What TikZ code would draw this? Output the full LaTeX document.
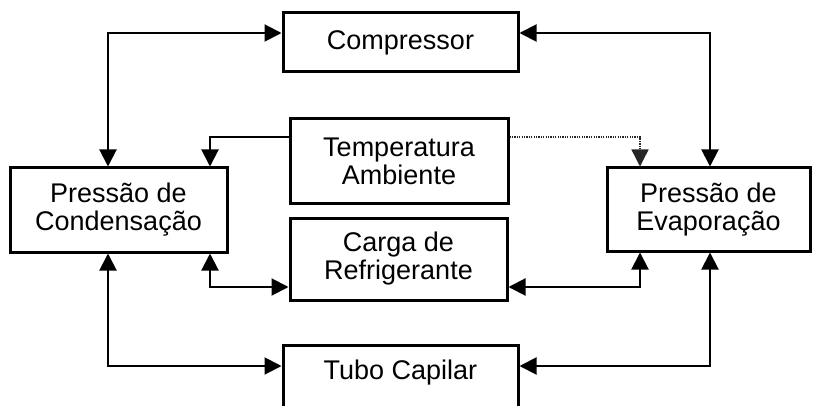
\documentclass[tikz,border=0pt]{standalone}
\usepackage{fontspec}
\setmainfont{Liberation Sans}
\usetikzlibrary{arrows.meta,calc}
\begin{document}
\begin{tikzpicture}[x=1pt,y=-1pt,
  box/.style={draw, line width=3pt, rectangle, align=center, inner sep=0pt,
    font=\fontsize{27}{28}\selectfont},
  tip/.tip={Triangle[length=17pt,width=17pt]},
  conn/.style={line width=2pt, tip-tip},
  oneway/.style={line width=2pt, -tip},
  dots/.style={line width=1.4pt, black!85, dash pattern=on 1.3pt off 1.1pt, -tip}
]
\useasboundingbox (0,0) rectangle (813,406);
\clip (0,0) rectangle (813,406);

\node[box, minimum width=235pt, minimum height=59pt] (comp) at (400.5,42.5) {Compressor};
\node[box, minimum width=218pt, minimum height=84pt] (temp) at (399,161) {Temperatura\\Ambiente};
\node[box, minimum width=217pt, minimum height=82pt] (carga) at (398.5,259) {Carga de\\Refrigerante};
\node[box, minimum width=217pt, minimum height=84pt] (cond) at (118.5,210) {Pressão de\\Condensação};
\node[box, minimum width=203pt, minimum height=83pt] (evap) at (708.5,209.5) {Pressão de\\Evaporação};
\node[box, align=none, minimum width=235pt, minimum height=85pt, text height=20pt, text depth=37pt] (tubo) at (400.5,387.5) {Tubo Capilar};

\draw[conn] ([xshift=-10.5pt]cond.north) |- ([yshift=9.5pt]comp.west);
\draw[conn] ([yshift=9.5pt]comp.east) -| ([xshift=1.5pt]evap.north);
\draw[oneway] ([yshift=24pt]temp.west) -| ([xshift=91.5pt]cond.north);
\draw[dots] ([yshift=24pt]temp.east) -| ([xshift=-68.5pt]evap.north);
\draw[conn] ([xshift=91.5pt]cond.south) |- ([yshift=-28pt]carga.west);
\draw[conn] ([yshift=-28pt]carga.east) -| ([xshift=-68.5pt]evap.south);
\draw[conn] ([xshift=-10.5pt]cond.south) |- ([yshift=21.5pt]tubo.west);
\draw[conn] ([xshift=1.5pt]evap.south) |- ([yshift=21.5pt]tubo.east);
\end{tikzpicture}
\end{document}
